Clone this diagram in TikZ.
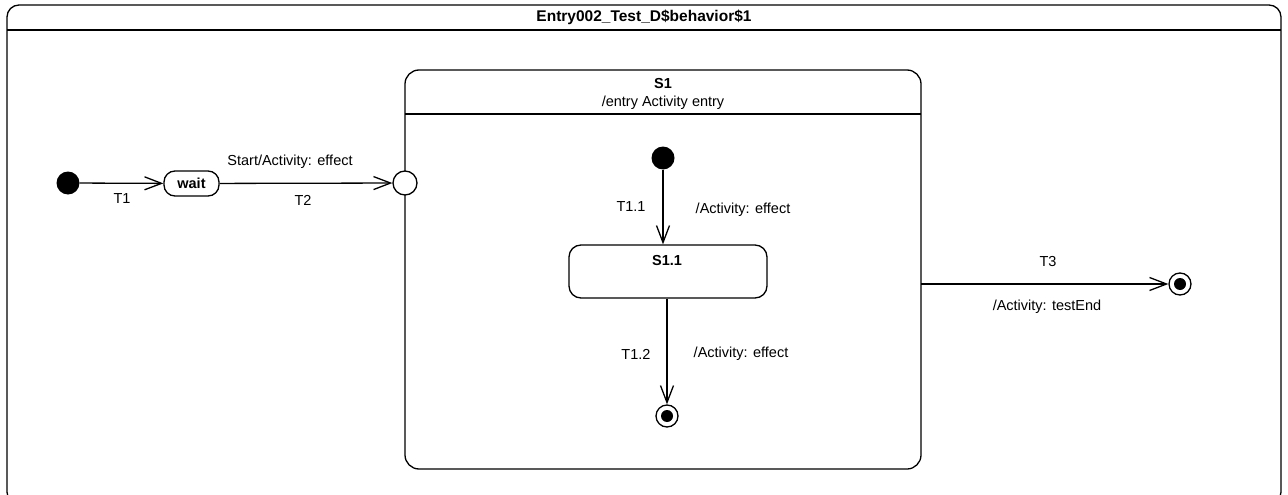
\documentclass[tikz,border=0pt]{standalone}
\usepackage{fontspec}
\setmainfont{Liberation Sans}
\usetikzlibrary{arrows.meta}
\begin{document}
\begin{tikzpicture}[x=1pt,y=-1pt,
  every node/.style={font=\fontsize{14.5}{17}\selectfont, inner sep=0pt},
  edge/.style={line width=1.3pt, -{Straight Barb[length=17pt,width=13pt,line width=1.3pt]}},
  stateline/.style={line width=1.3pt},
  initst/.style={circle, fill=black, minimum size=23pt},
  finalst/.style={circle, draw, line width=1.3pt, fill=white, minimum size=22pt, path picture={\fill[black] (path picture bounding box.center) circle (6pt);}},
  entrypt/.style={circle, draw, line width=1.3pt, fill=white, minimum size=24pt},
  lbl/.style={font=\fontsize{14.5}{17}\selectfont},
  bold/.style={font=\fontsize{14.5}{17}\selectfont\bfseries}]
\useasboundingbox (0,0) rectangle (1288,495);
\clip (0,0) rectangle (1288,495);
% outer frame
\draw[stateline, rounded corners=12pt] (7,5) rectangle (1281,504);
\draw[stateline] (7,30) -- (1281,30);
\node[font=\fontsize{15.5}{18}\selectfont\bfseries] (title) at (644,17.5) {Entry002\_Test\_D\$behavior\$1};
% S1 composite state
\draw[stateline, rounded corners=14pt] (405,70) rectangle (921,469);
\coordinate (S1right) at (921,284);
\draw[stateline] (405,114) -- (921,114);
\node[bold] (s1name) at (663,84) {S1};
\node[lbl] (s1entry) at (663,103) {/entry Activity entry};
% left part
\node[initst] (init) at (68,183) {};
\node[draw, stateline, rounded corners=11pt, minimum width=55pt, minimum height=25pt, bold] (wait) at (191.5,183.5) {wait};
\node[entrypt] (entry) at (405,183) {};
\draw[edge] (init) -- (wait);
\node[lbl] (t1) at (122,199) {T1};
\draw[edge] (wait) -- (entry);
\node[lbl] (t2eff) at (290,162) {Start/Activity: effect};
\node[lbl] (t2) at (303,200) {T2};
% inner
\node[initst] (init2) at (663,158) {};
\node[draw, stateline, rounded corners=12pt, minimum width=198pt, minimum height=53pt] (s11) at (668,271.5) {};
\node[bold] (s11name) at (667,261) {S1.1};
\draw[edge] (init2) -- (init2 |- s11.north);
\node[lbl] (t11) at (631,207) {T1.1};
\node[lbl] (t11eff) at (743,210) {/Activity: effect};
\node[finalst] (final1) at (667,416) {};
\draw[edge] (final1 |- s11.south) -- (final1);
\node[lbl] (t12) at (636,354) {T1.2};
\node[lbl] (t12eff) at (741,354) {/Activity: effect};
% right
\node[finalst] (final2) at (1180,284) {};
\draw[edge] (S1right) -- (final2);
\node[lbl] (t3) at (1048,262) {T3};
\node[lbl] (t3eff) at (1047,307) {/Activity: testEnd};
\end{tikzpicture}
\end{document}
